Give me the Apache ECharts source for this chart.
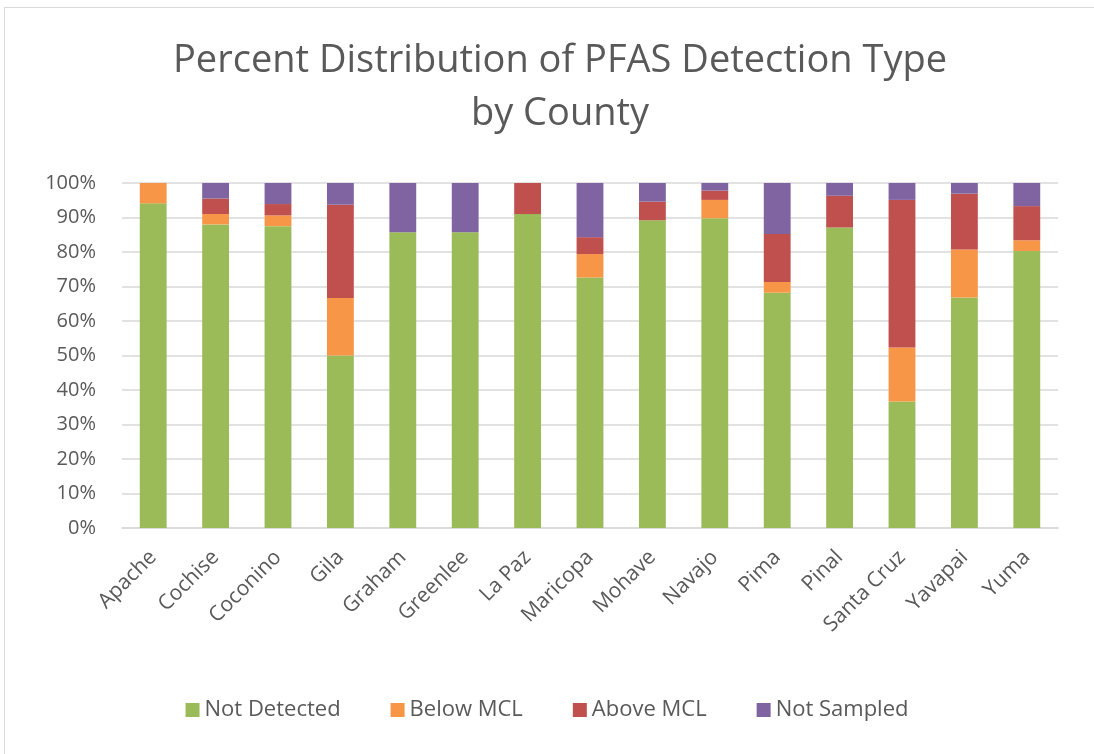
<!DOCTYPE html>
<html>
<head>
<meta charset="utf-8">
<script src="https://cdn.jsdelivr.net/npm/echarts@6/dist/echarts.min.js"></script>
<style>
  html, body { margin: 0; padding: 0; background: #fff; }
  #frame { position: absolute; left: 4px; top: 7px; width: 1100px; height: 760px; border: 1px solid #d9d9d9; }
  #chart { position: absolute; left: 0; top: 0; width: 1094px; height: 754px; }
</style>
</head>
<body>
<div id="frame"></div>
<div id="chart"></div>
<script>
// counties on the x axis
var counties = ["Apache", "Cochise", "Coconino", "Gila", "Graham", "Greenlee", "La Paz",
  "Maricopa", "Mohave", "Navajo", "Pima", "Pinal", "Santa Cruz", "Yavapai", "Yuma"];

// percent of sites per detection type
var notDetected = [94.1, 88.0, 87.5, 50.0, 85.7, 85.7, 91.0, 72.6, 89.2, 89.8, 68.2, 87.1, 36.7, 66.8, 80.3];
var belowMCL    = [5.9, 3.0, 3.1, 16.7, 0, 0, 0, 6.8, 0, 5.3, 3.1, 0, 15.6, 13.9, 3.1];
var aboveMCL    = [0, 4.5, 3.3, 27.0, 0, 0, 9.0, 4.9, 5.4, 2.7, 13.9, 9.2, 42.8, 16.2, 9.9];
var notSampled  = [0, 4.5, 6.1, 6.3, 14.3, 14.3, 0, 15.7, 5.4, 2.2, 14.8, 3.7, 4.9, 3.1, 6.7];

var textColor = "#595959";
var font = "Open Sans";

var chart = echarts.init(document.getElementById("chart"));

function bar(name, data, color) {
  return {
    name: name,
    type: "bar",
    stack: "total",
    barWidth: "43%",
    data: data,
    itemStyle: { color: color },
    animation: false
  };
}

var option = {
  title: {
    text: "Percent Distribution of PFAS Detection Type\nby County",
    left: 555,
    textAlign: "center",
    top: 30,
    textStyle: {
      color: textColor,
      fontFamily: font,
      fontWeight: "normal",
      fontSize: 38,
      lineHeight: 53
    }
  },
  legend: {
    bottom: 28,
    left: "center",
    itemWidth: 14,
    itemHeight: 14,
    itemGap: 50,
    icon: "rect",
    textStyle: { color: textColor, fontFamily: font, fontSize: 22 },
    data: ["Not Detected", "Below MCL", "Above MCL", "Not Sampled"]
  },
  grid: {
    left: 122,
    right: 36,
    top: 183,
    height: 345
  },
  xAxis: {
    type: "category",
    data: counties,
    axisLine: { lineStyle: { color: "#d9d9d9", width: 1.5 } },
    axisTick: { show: false },
    axisLabel: {
      rotate: 45,
      color: textColor,
      fontFamily: font,
      fontSize: 21,
      margin: 26,
      interval: 0
    }
  },
  yAxis: {
    type: "value",
    min: 0,
    max: 100,
    interval: 10,
    axisLine: { show: false },
    axisTick: { show: false },
    splitLine: { lineStyle: { color: "#d9d9d9", width: 1.5 } },
    axisLabel: {
      color: textColor,
      fontFamily: font,
      fontSize: 20,
      margin: 26,
      formatter: "{value}%"
    }
  },
  series: [
    bar("Not Detected", notDetected, "#9bbb59"),
    bar("Below MCL", belowMCL, "#f79646"),
    bar("Above MCL", aboveMCL, "#c0504d"),
    bar("Not Sampled", notSampled, "#8064a2")
  ]
};

chart.setOption(option);
</script>
</body>
</html>
